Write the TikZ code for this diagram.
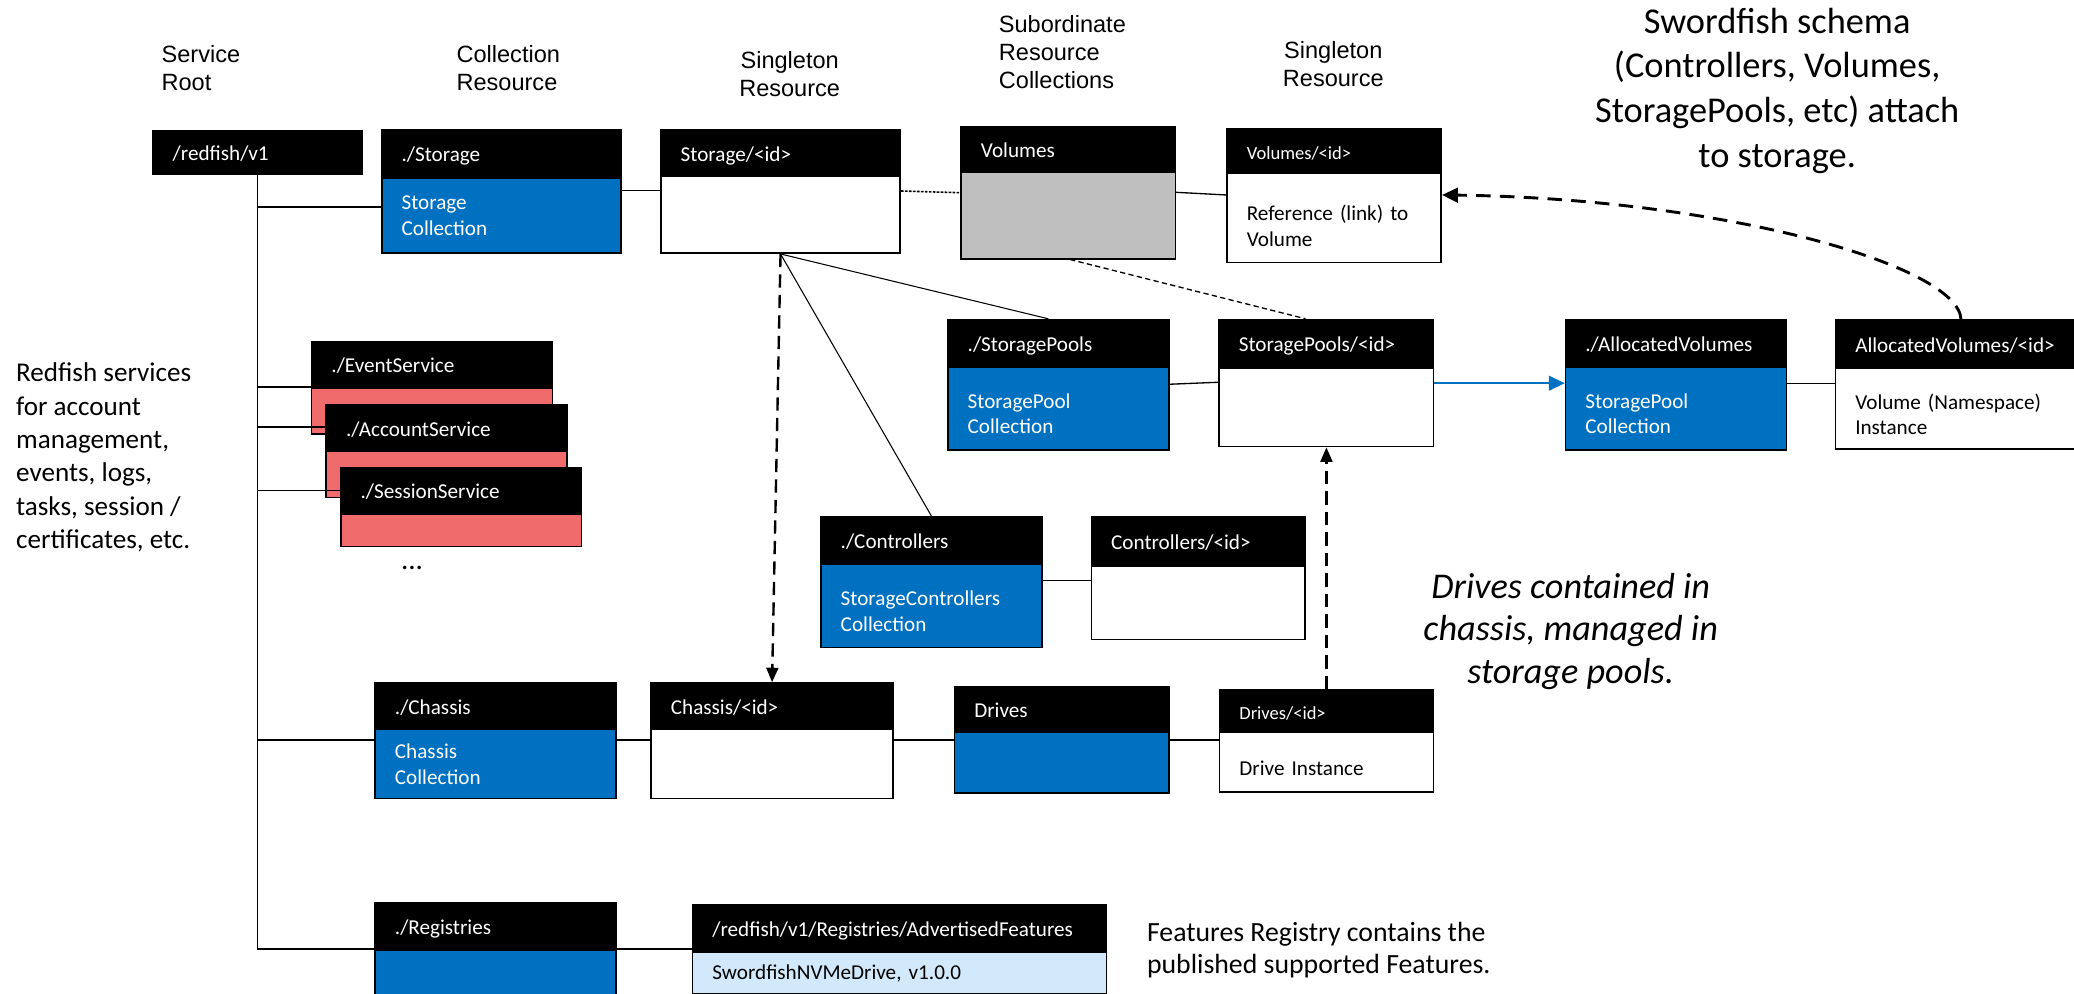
\documentclass[tikz,border=0pt]{standalone}
\usepackage{fontspec}
\setmainfont{Carlito}
\newfontfamily\arialf{Liberation Sans}
\usetikzlibrary{arrows.meta}
\definecolor{boxblue}{RGB}{0,112,192}
\definecolor{boxred}{RGB}{240,108,108}
\definecolor{boxgray}{RGB}{191,191,191}
\definecolor{boxlight}{RGB}{210,233,251}
\newcommand{\mkbox}[9]{%
  \pgfmathsetmacro{\mkboxtw}{#4-30}%
  \node[hdr, minimum width=#4pt, minimum height=#5pt, text width=\mkboxtw pt] (#1-h) at (#2,#3) {#8};%
  \node[bdy, minimum width=#4pt, minimum height=#6pt, text width=\mkboxtw pt, #7] (#1-b) at (#2,#3+#5) {#9};%
}
\newcommand{\toppad}[1]{\rule{0pt}{#1pt}}
\tikzset{
  boxfont/.style={font=\fontsize{16}{19.5}\selectfont},
  hdr/.style={boxfont, draw=black, fill=black, text=white, anchor=north west,
    inner xsep=15pt, inner ysep=0pt, align=left, line width=1.2pt,
    text height=13pt, text depth=1pt},
  bdy/.style={boxfont, draw=black, anchor=north west, inner xsep=15pt,
    inner ysep=0pt, align=left, line width=1.2pt},
  bblue/.style={fill=boxblue, text=white},
  bwhite/.style={fill=white, text=black},
  bgray/.style={fill=boxgray},
  bred/.style={fill=boxred},
  blight/.style={fill=boxlight, text=black},
  link/.style={draw=black, line width=1pt},
  slimlink/.style={draw=black, line width=0.8pt},
  finedash/.style={draw=black, line width=1pt, dash pattern=on 4pt off 2.5pt},
  dotlink/.style={draw=black, line width=1.2pt, dash pattern=on 2pt off 1pt},
  bigdash/.style={draw=black, line width=1.8pt, dash pattern=on 10pt off 5.5pt, -{Triangle[length=11pt,width=9pt]}},
  curvedash/.style={draw=black, line width=2.2pt, dash pattern=on 11pt off 7pt, -{Triangle[length=12pt,width=11pt]}},
  bluearrow/.style={draw=boxblue, line width=1.6pt, -{Triangle[length=12pt,width=11pt]}},
  toplabel/.style={font=\arialf\fontsize{17.8}{21.2}\selectfont, inner sep=0pt},
  note/.style={inner sep=0pt},
}
\begin{document}
\begin{tikzpicture}[x=1pt,y=-1pt]
\path[use as bounding box] (0,0) rectangle (1568,751);
\clip (0,0) rectangle (1568,751);
\fill[white] (0,0) rectangle (1568,751);

% column labels (anchor base = baseline of the last line)
\node[toplabel, anchor=base west, align=left] (lblRoot) at (122,68.6) {Service\\Root};
\node[toplabel, anchor=base west, align=left] (lblColl) at (345,68.6) {Collection\\Resource};
\node[toplabel, anchor=base, align=center] (lblSingA) at (597,72.9) {Singleton\\Resource};
\node[toplabel, anchor=base west, align=left] (lblSub) at (755,66.9) {Subordinate\\Resource\\Collections};
\node[toplabel, anchor=base, align=center] (lblSingB) at (1008,65.2) {Singleton\\Resource};

% notes
\node[note, anchor=base, align=center, font=\fontsize{27.5}{33.7}\selectfont] (lblSword) at (1343.6,126.3) {Swordfish schema\\(Controllers, Volumes,\\StoragePools, etc) attach\\to storage.};
\node[note, anchor=base west, align=left, font=\fontsize{20.5}{25.2}\selectfont] (lblRed) at (12,414.6) {Redfish services\\for account\\management,\\events, logs,\\tasks, session /\\certificates, etc.};
\node[note, anchor=base, align=center, font=\itshape\fontsize{27.4}{32.1}\selectfont] (lblDrv) at (1187.5,516.6) {Drives contained in\\chassis, managed in\\storage pools.};
\node[note, anchor=base west, align=left, font=\fontsize{21}{24.5}\selectfont] (lblFeat) at (867,736) {Features Registry contains the\\published supported Features.};

% boxes
\node[hdr, minimum width=158pt, minimum height=33pt, text width=128pt] (root) at (115,98) {/redfish/v1};
\mkbox{stoC}{288}{97.5}{181}{36.5}{56.5}{bblue}{./Storage}{Storage\\Collection}
\mkbox{stoI}{499}{97.8}{181}{35}{58}{bwhite}{Storage/<id>}{}
\mkbox{vols}{726}{95}{162}{34.5}{65.5}{bgray}{Volumes}{}
\mkbox{volI}{927}{97}{162}{33.3}{67.5}{bwhite}{\fontsize{14}{17}\selectfont Volumes/<id>}{\toppad{24}Reference (link) to\\Volume}
\mkbox{spC}{716}{241}{167}{36}{62.5}{bblue}{./StoragePools}{\toppad{19}StoragePool\\Collection}
\mkbox{spI}{921}{241}{162}{37}{59}{bwhite}{StoragePools/<id>}{}
\mkbox{avC}{1183}{241}{167}{36}{62.5}{bblue}{./AllocatedVolumes}{\toppad{19}StoragePool\\Collection}
\mkbox{avI}{1387}{241.4}{190}{36.6}{61}{bwhite}{AllocatedVolumes/<id>}{\toppad{20}Volume (Namespace)\\Instance}
\mkbox{evS}{235}{257.6}{182}{35}{35}{bred}{./EventService}{}
\mkbox{acS}{246}{305.6}{182}{35}{35}{bred}{./AccountService}{}
\mkbox{seS}{257}{352.8}{182}{35.2}{24.6}{bred}{./SessionService}{}
\mkbox{ctC}{620}{390}{167}{36}{63}{bblue}{./Controllers}{\toppad{19.3}StorageControllers\\Collection}
\mkbox{ctI}{824.5}{390}{161.5}{37.7}{55.3}{bwhite}{Controllers/<id>}{}
\mkbox{chC}{283}{515.8}{182}{35.2}{52}{bblue}{./Chassis}{Chassis\\Collection}
\mkbox{chI}{491.6}{515.8}{183}{34.8}{52.4}{bwhite}{Chassis/<id>}{}
\mkbox{drC}{721}{519}{162}{34}{46}{bblue}{Drives}{}
\mkbox{drI}{921.4}{521}{161.6}{32}{45}{bwhite}{\fontsize{14}{17}\selectfont Drives/<id>}{\toppad{21}Drive Instance}
\mkbox{rgC}{283}{682}{182}{35.5}{40}{bblue}{./Registries}{}
\mkbox{afI}{523}{683.6}{313}{36}{31}{blight}{/redfish/v1/Registries/AdvertisedFeatures}{SwordfishNVMeDrive, v1.0.0}
\node[inner sep=0pt, font=\fontsize{22}{26}\selectfont] (dots) at (311.5,429.5) {...};

% trunk and branches
\draw[link, line width=1.3pt] (root.south) -- (root.south |- 0,717.5);
\draw[link] (root.south |- 0,156.5) -- (stoC-b.west |- 0,156.5);
\draw[link] (root.south |- 0,292.6) -- (evS-h.west |- 0,292.6);
\draw[link] (root.south |- 0,322.8) -- (acS-h.west |- 0,322.8);
\draw[link] (root.south |- 0,371) -- (seS-h.west |- 0,371);
\draw[link] (root.south |- 0,559.5) -- (chC-b.west |- 0,559.5);
\draw[link] (root.south |- 0,717.5) -- (rgC-h.west |- 0,717.5);

% storage row
\draw[link] (stoC-b.east |- 0,143.8) -- (stoI-b.west |- 0,143.8);
\draw[dotlink] (stoI-b.east |- 0,144.4) -- (vols-b.west |- 0,145.7);
\draw[link] (vols-b.east |- 0,145.4) -- (volI-b.west |- 0,147.4);
\draw[finedash] (vols-b.south -| 809,0) -- (spI-h.north -| 987,0);
\draw[slimlink] (stoI-b.south) -- (spC-h.north -| 792.5,0);
\draw[slimlink] (stoI-b.south) -- (ctC-h.north);
\draw[bigdash] (stoI-b.south) -- (chI-h.north);

% pools row
\draw[link] (spC-b.east |- 0,290.5) -- (spI-b.west |- 0,289);
\draw[bluearrow] (spI-b.east |- 0,289.7) -- (avC-b.west |- 0,289.7);
\draw[link] (avC-b.east |- 0,290) -- (avI-b.west |- 0,290);
\draw[curvedash] (avI-h.north) .. controls (1480,200) and (1300,150) .. (volI-b.east |- 0,147.4);

% controllers
\draw[link] (ctC-b.east |- 0,439) -- (ctI-b.west |- 0,439);

% chassis row
\draw[link] (chC-b.east |- 0,559.5) -- (chI-b.west |- 0,559.5);
\draw[link] (chI-b.east |- 0,559.5) -- (drC-b.west |- 0,559.5);
\draw[link] (drC-b.east |- 0,559.5) -- (drI-b.west |- 0,559.5);
\draw[bigdash] (drI-h.north) -- (drI-h.north |- spI-b.south);

% registries
\draw[link] (rgC-h.east |- 0,717.5) -- (afI-h.west |- 0,717.5);
\end{tikzpicture}
\end{document}
